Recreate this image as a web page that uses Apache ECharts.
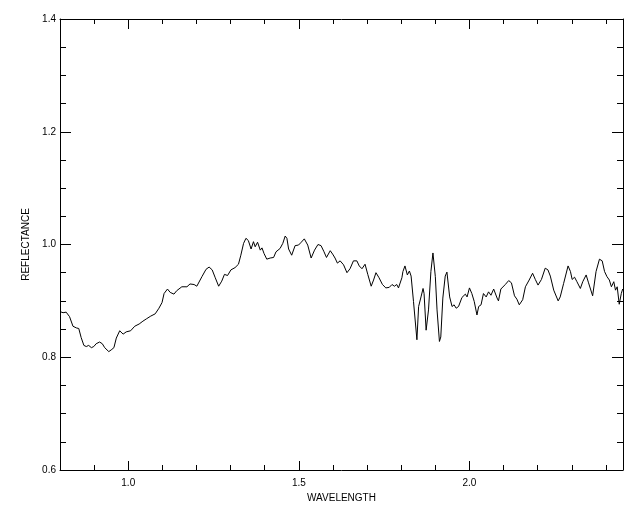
<!DOCTYPE html>
<html>
<head>
<meta charset="utf-8">
<script src="https://cdn.jsdelivr.net/npm/echarts@6/dist/echarts.min.js"></script>
<style>html,body{margin:0;padding:0;background:#fff;}#c{width:640px;height:512px;}</style>
</head>
<body>
<div id="c"></div>
<script>
const wavelength = [0.800,0.809,0.818,0.828,0.838,0.848,0.855,0.862,0.870,0.877,0.884,0.892,0.899,0.906,0.916,0.924,0.931,0.943,0.950,0.958,0.965,0.975,0.985,0.994,1.007,1.019,1.032,1.043,1.053,1.066,1.079,1.090,1.099,1.105,1.115,
1.123,1.134,1.142,1.157,1.172,1.181,1.193,1.201,1.216,1.228,1.237,1.246,1.255,1.265,1.274,1.282,1.291,1.301,1.313,1.323,1.330,1.338,1.345,1.352,1.360,1.367,1.372,1.379,1.387,1.392,1.398,1.406,1.416,1.426,1.433,1.445,1.453,1.460,1.465,
1.470,1.479,1.489,1.499,1.507,1.516,1.526,1.536,1.546,1.556,1.565,1.573,1.581,1.592,1.599,1.606,1.613,1.621,1.631,1.641,1.650,1.660,1.670,1.677,1.685,1.694,1.702,1.712,1.719,1.726,1.735,1.745,1.755,1.765,1.773,1.780,1.787,1.792,1.802,
1.805,1.811,1.818,1.824,1.829,1.836,1.841,1.846,1.851,1.858,1.864,1.867,1.873,1.880,1.887,1.893,1.900,1.905,1.912,1.916,1.922,1.929,1.934,1.942,1.949,1.955,1.961,1.968,1.978,1.988,1.993,2.000,2.007,2.014,2.022,2.027,2.034,2.041,2.049,2.056,2.063,2.071,2.081,2.085,2.092,2.105,
2.115,2.123,2.132,2.139,2.146,2.156,2.164,2.175,2.185,2.193,2.201,2.211,2.222,2.230,2.237,2.247,2.260,2.266,2.276,2.289,2.296,2.301,2.308,2.315,2.325,2.332,2.342,2.349,2.361,2.371,2.381,2.389,2.396,2.403,2.410,2.416,2.423,2.428,2.433,2.439,2.445,2.449];

const reflectance = [0.881,0.879,0.880,0.872,0.855,0.852,0.851,0.835,0.821,0.819,0.821,0.817,0.819,0.824,0.827,0.824,0.817,0.810,0.813,0.817,0.834,0.847,0.841,0.845,0.847,0.855,0.859,0.864,0.868,0.873,0.877,0.887,0.897,0.913,0.921,
0.915,0.912,0.918,0.925,0.925,0.930,0.929,0.926,0.943,0.956,0.960,0.955,0.941,0.926,0.935,0.947,0.945,0.955,0.959,0.965,0.981,1.002,1.011,1.007,0.992,1.005,0.996,1.004,0.990,0.994,0.984,0.974,0.976,0.977,0.987,0.993,1.002,1.015,1.011,
0.992,0.981,0.998,0.999,1.004,1.010,0.999,0.976,0.990,1.000,0.998,0.988,0.977,0.989,0.983,0.976,0.967,0.971,0.964,0.950,0.957,0.971,0.971,0.962,0.957,0.965,0.947,0.926,0.937,0.950,0.941,0.929,0.923,0.924,0.929,0.926,0.929,0.923,0.941,
0.952,0.962,0.946,0.953,0.944,0.899,0.902,0.831,0.890,0.907,0.922,0.913,0.848,0.884,0.952,0.985,0.943,0.884,0.828,0.836,0.905,0.944,0.951,0.907,0.890,0.893,0.887,0.890,0.906,0.912,0.907,0.923,0.913,0.899,0.875,0.890,0.893,0.913,0.907,0.916,0.910,0.921,0.905,0.900,0.921,0.929,
0.936,0.932,0.909,0.903,0.893,0.902,0.925,0.937,0.949,0.938,0.928,0.938,0.958,0.955,0.944,0.919,0.900,0.907,0.931,0.962,0.952,0.938,0.942,0.934,0.922,0.934,0.946,0.932,0.909,0.952,0.974,0.971,0.952,0.943,0.937,0.925,0.934,0.919,0.925,0.894,0.913,0.921];

const xMajorTicks = [1.0, 1.5, 2.0];
const xMinorTicks = [0.9, 1.1, 1.2, 1.3, 1.4, 1.6, 1.7, 1.8, 1.9, 2.1, 2.2, 2.3, 2.4];
const xRange = [0.8, 2.45];
const yRange = [0.6, 1.4];
const yStep = 0.2;
const xTitle = 'WAVELENGTH';
const yTitle = 'REFLECTANCE';

const FONT = 'Liberation Sans';
const black = '#000';

function xAxisDef(pos, ticks, len, showLine, labels) {
  return {
    type: 'value', position: pos, min: xRange[0], max: xRange[1],
    axisLine: { show: showLine, onZero: false, lineStyle: { color: black, width: 1 } },
    axisTick: { show: true, inside: true, length: len, customValues: ticks, lineStyle: { color: black, width: 1 } },
    axisLabel: labels ? { show: true, customValues: xMajorTicks, formatter: v => v.toFixed(1), color: black, fontFamily: FONT, fontSize: 10, margin: 8 } : { show: false },
    splitLine: { show: false },
    name: labels ? xTitle : '', nameLocation: 'middle', nameGap: 19,
    nameTextStyle: { color: black, fontFamily: FONT, fontSize: 10 }
  };
}
function yAxisDef(pos, labels) {
  return {
    type: 'value', position: pos, min: yRange[0], max: yRange[1], interval: yStep,
    axisLine: { show: true, onZero: false, lineStyle: { color: black, width: 1 } },
    axisTick: { show: true, inside: true, length: 11, lineStyle: { color: black, width: 1 } },
    minorTick: { show: true, splitNumber: 4, length: 6, lineStyle: { color: black, width: 1 } },
    axisLabel: labels ? { show: true, formatter: v => v.toFixed(1), color: black, fontFamily: FONT, fontSize: 10, margin: 4 } : { show: false },
    splitLine: { show: false }, minorSplitLine: { show: false },
    name: labels ? yTitle : '', nameLocation: 'middle', nameGap: 22, nameRotate: 90,
    nameTextStyle: { color: black, fontFamily: FONT, fontSize: 10 }
  };
}

const chart = echarts.init(document.getElementById('c'), null, { renderer: 'canvas' });
chart.setOption({
  animation: false,
  backgroundColor: '#fff',
  grid: { left: 60, top: 19, width: 563, height: 451, containLabel: false },
  xAxis: [
    xAxisDef('bottom', xMajorTicks, 9, true, true),
    xAxisDef('bottom', xMinorTicks, 5, false, false),
    xAxisDef('top', xMajorTicks, 10, true, false),
    xAxisDef('top', xMinorTicks, 5, false, false)
  ],
  yAxis: [yAxisDef('left', true), yAxisDef('right', false)],
  series: [{
    type: 'line', xAxisIndex: 0, yAxisIndex: 0,
    data: wavelength.map((w, i) => [w, reflectance[i]]),
    showSymbol: false, symbol: 'none', clip: true,
    lineStyle: { color: black, width: 1 }
  }]
});
</script>
</body>
</html>
